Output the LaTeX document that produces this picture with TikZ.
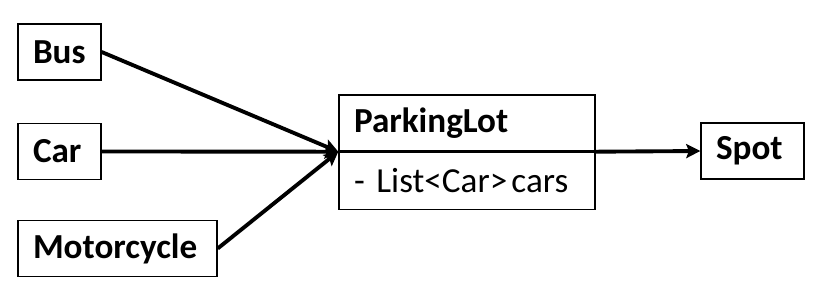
\documentclass[tikz,border=0pt]{standalone}
\usepackage{fontspec}
\setmainfont{Carlito}
\usetikzlibrary{arrows.meta}

\begin{document}
\begin{tikzpicture}[
    box/.style={draw, line width=0.8pt, inner xsep=0.3cm, inner ysep=0pt,
        minimum height=1.12cm, align=left, font=\fontsize{20}{24}\selectfont\bfseries},
    link/.style={-{Stealth[length=8pt,width=8pt,inset=1.5pt]}, line width=2.2pt}
]
    \useasboundingbox (0,0) rectangle (16.48,5.8);

    \node[box, text width=1.06cm] (bus)  at (1.19,4.76) {Bus}; %Bus
    \node[box, text width=1.06cm] (car)  at (1.19,2.77) {Car}; %Car
    \node[box, text width=3.38cm] (moto) at (2.35,0.83) {Motorcycle}; %Motorcycle

    % ParkingLot: name on top, field below
    \node[box, text width=4.52cm] (lot) at (9.34,3.34) {ParkingLot};
    \node[box, text width=4.52cm, minimum height=1.14cm, anchor=north,
        font=\fontsize{20}{24}\selectfont] (cars) at (lot.south) {- List<Car>\hspace{0.12em}cars};

    \node[box, text width=1.46cm] (spot) at (15.05,2.78) {Spot}; %Spot

    \foreach \v in {bus,car,moto} \draw[link] (\v.east) -- (lot.south west);
    \draw[link] (lot.south east) -- (spot.west);

\end{tikzpicture}
\end{document}
